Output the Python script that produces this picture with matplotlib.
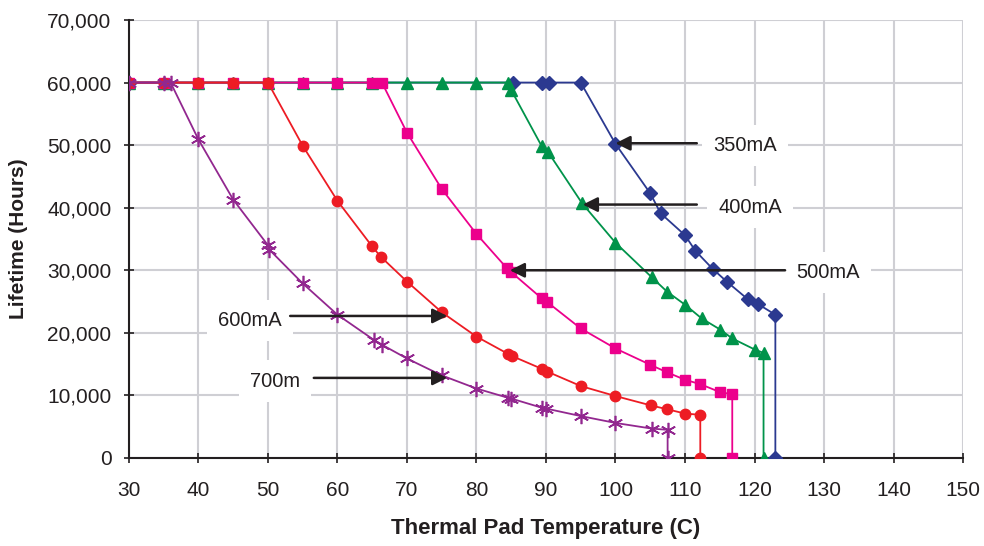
import matplotlib.pyplot as plt
from matplotlib.ticker import FuncFormatter

plt.rcParams["font.family"] = ["Liberation Sans", "DejaVu Sans"]

# lifetime curves per drive current (temperature in C, lifetime in hours)
t350 = [30, 85.3, 89.5, 90.5, 95, 100, 105, 106.5, 110, 111.5, 114, 116, 119, 120.5, 123, 123]
h350 = [60000] * 5 + [50200, 42300, 39100, 35600, 33100, 30200, 28200, 25400, 24600, 22900, 0]

t400 = [30, 35, 40, 45, 50, 55, 60, 65, 70, 75, 80, 84.5, 85, 89.4, 90.3, 95.2, 100, 105.2,
        107.4, 110, 112.4, 115.1, 116.8, 120.1, 121.3, 121.3]
h400 = [60000] * 12 + [58800, 49800, 48900, 40700, 34400, 28900, 26600, 24500, 22300, 20500,
                       19100, 17300, 16800, 0]

t500 = [30, 35, 40, 45, 50, 55, 60, 65, 66.4, 70, 75, 80, 84.4, 85, 89.4, 90.2, 95, 100, 105,
        107.4, 110, 112.2, 115.1, 116.8, 116.8]
h500 = [60000] * 9 + [52000, 43000, 35800, 30300, 29700, 25500, 24900, 20700, 17500, 14900,
                      13700, 12500, 11800, 10500, 10200, 0]

t600 = [30, 35, 40, 45, 50, 55, 60, 65, 66.2, 70, 75, 80, 84.6, 85.1, 89.5, 90.2, 95, 100,
        105.1, 107.4, 110, 112.2, 112.2]
h600 = [60000] * 5 + [49900, 41100, 33800, 32200, 28200, 23300, 19400, 16600, 16300, 14200,
                      13800, 11500, 9900, 8400, 7800, 7100, 6900, 0]

t700 = [30, 35, 36, 40, 45, 50, 50.2, 55, 60, 65.2, 66.4, 70, 75, 80, 84.6, 85, 89.5, 90,
        95, 100, 105.2, 107.5, 107.5]
h700 = [60000, 60000, 60000, 50900, 41300, 34000, 33300, 27900, 22900, 18900, 18100, 15900,
        13200, 11100, 9600, 9500, 8000, 7900, 6700, 5600, 4700, 4500, 0]

fig, ax = plt.subplots(figsize=(9.84, 5.46), dpi=100)
fig.subplots_adjust(left=0.131, right=0.9787, top=0.9634, bottom=0.1612)

ax.plot(t350, h350, color="#2B3990", lw=1.3, marker="D", ms=7.5, zorder=3)
ax.plot(t400, h400, color="#00934A", lw=1.3, marker="^", ms=9, zorder=4)
ax.plot(t500, h500, color="#EC008C", lw=1.3, marker="s", ms=7.5, zorder=5)
ax.plot(t600, h600, color="#ED1C24", lw=1.3, marker="o", ms=7.5, zorder=6)
ax.plot(t700, h700, color="#92278F", lw=1.3, marker=(6, 2, 0), ms=11, mew=1.2, zorder=7)

ax.set_xlim(30, 150)
ax.set_ylim(0, 70000)
ax.set_xticks(range(30, 151, 10))
ax.set_yticks(range(0, 70001, 10000))
ax.yaxis.set_major_formatter(FuncFormatter(lambda v, p: f"{int(v):,}"))
ax.grid(True, color="#CFCFD4", lw=1.5, zorder=0)
ax.set_axisbelow(True)
for s in ["top", "right"]:
    ax.spines[s].set_visible(False)
for s in ["left", "bottom"]:
    ax.spines[s].set_color("#231F20")
    ax.spines[s].set_linewidth(1.5)
ax.tick_params(direction="inout", length=7, width=1.2, labelsize=15, colors="#231F20")
ax.tick_params(axis="x", pad=13)
ax.tick_params(axis="y", pad=9)
ax.set_xlabel("Thermal Pad Temperature (C)", fontsize=16, fontweight="bold",
              labelpad=13, color="#231F20")
ax.set_ylabel("Lifetime (Hours)", fontsize=15, fontweight="bold", labelpad=14,
              color="#231F20")

box = dict(facecolor="white", edgecolor="none", pad=8)
arrow = dict(arrowstyle="-|>", color="#231F20", lw=1.8, mutation_scale=22, shrinkA=0,
             shrinkB=0)
labels = [("350mA", 118.6, 50000, 111.7, 50300, 100.0, 50300),
          ("400mA", 119.4, 40100, 111.7, 40500, 95.3, 40500),
          ("500mA", 130.6, 29700, 124.4, 30000, 84.8, 30000),
          ("600mA", 47.4, 22000, 53.2, 22700, 75.8, 22700),
          ("700m", 51.0, 12300, 56.6, 12800, 75.8, 12800)]
for txt, tx, ty, ax0, ay0, ax1, ay1 in labels:
    ax.text(tx, ty, txt, fontsize=14.5, ha="center", va="center", color="#231F20",
            bbox=box, zorder=8)
    ax.annotate("", xy=(ax1, ay1), xytext=(ax0, ay0), arrowprops=arrow, zorder=9)

fig.savefig("out.png")
